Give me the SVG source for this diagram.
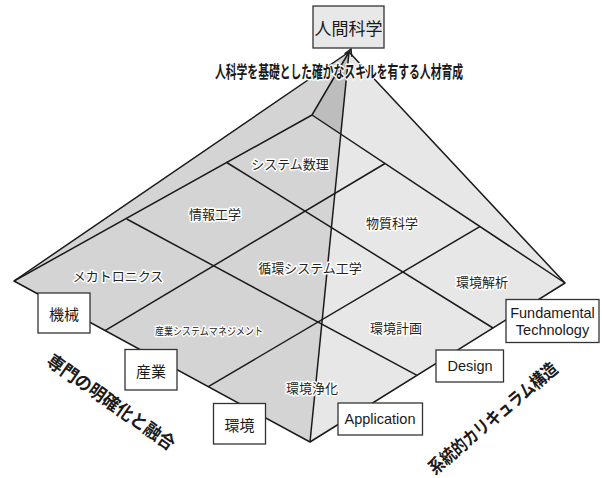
<svg xmlns="http://www.w3.org/2000/svg" width="602" height="478" viewBox="0 0 602 478">
<defs>
<style>
.edge{stroke:#1a1a1a;stroke-width:1.5;fill:none;stroke-linejoin:round}
.box{fill:#fff;stroke:#333;stroke-width:1.3}
.jp{font-family:"Noto Sans CJK JP","Noto Sans",sans-serif;fill:#1a1a1a}
.en{font-family:"Liberation Sans",Arial,sans-serif;fill:#1a1a1a}
.cell{font-family:"Noto Sans CJK JP",sans-serif;fill:#222;font-size:13px;text-anchor:middle;dominant-baseline:central;stroke:#fff;stroke-width:3;paint-order:stroke;stroke-linejoin:round}
.lbl{text-anchor:middle;dominant-baseline:central}
</style>
<marker id="arr" markerWidth="10" markerHeight="10" refX="8" refY="5" orient="auto" markerUnits="userSpaceOnUse">
<path d="M1,1 L8,5 L1,9" fill="none" stroke="#1a1a1a" stroke-width="1.3"/>
</marker>
</defs>
<rect width="602" height="478" fill="#fff"/>
<g id="faces">
<polygon points="349,52 14,281 310,442" fill="#d4d4d4"/>
<polygon points="349,52 310,442 565,283" fill="#e7e7e7"/>
<polygon points="349,52 312,115 340.8,133.7" fill="#bdbdbd"/>
</g>
<g id="connectors">
<path class="edge" d="M349,52 L14,281 L310,442 L565,283 Z"/>
<path class="edge" d="M349,52 L310,442"/>
<path class="edge" d="M349,52 L312,115"/>
<path class="edge" d="M14,281 L312,115 L565,283"/>
<path class="edge" d="M126.7,219 L417,375.3"/>
<path class="edge" d="M226.7,162.5 L493,328"/>
<path class="edge" d="M105,330.6 L385,163.5"/>
<path class="edge" d="M208.3,386.7 L479.8,226.6"/>
<path class="edge" d="M349.3,53 L351,49" marker-end="url(#arr)"/>
</g>
<g id="cells">
<text class="cell" x="290" y="163">システム数理</text>
<text class="cell" x="215" y="213">情報工学</text>
<text class="cell" x="392" y="222">物質科学</text>
<text class="cell" x="118" y="275">メカトロニクス</text>
<text class="cell" x="310" y="267">循環システム工学</text>
<text class="cell" x="482" y="281">環境解析</text>
<text class="cell" x="209" y="330" style="font-size:10.5px" textLength="108" lengthAdjust="spacingAndGlyphs">産業システムマネジメント</text>
<text class="cell" x="396" y="327">環境計画</text>
<text class="cell" x="312" y="387">環境浄化</text>
</g>
<g id="node-human">
<rect class="box" x="313" y="6" width="71" height="42" fill="#e8e8e8" style="fill:#e8e8e8"/>
<text class="jp lbl" x="348.5" y="27" font-size="17">人間科学</text>
</g>
<g id="headline">
<text class="jp lbl" x="339" y="70" font-size="17" font-weight="bold" textLength="248" lengthAdjust="spacingAndGlyphs" stroke="#fff" stroke-width="3" paint-order="stroke" stroke-linejoin="round">人科学を基礎とした確かなスキルを有する人材育成</text>
</g>
<g id="node-kikai">
<rect class="box" x="38" y="293" width="52" height="40"/>
<text class="jp lbl" x="64" y="313" font-size="15">機械</text>
</g>
<g id="node-sangyo">
<rect class="box" x="125" y="349.5" width="52" height="40.5"/>
<text class="jp lbl" x="151" y="370" font-size="15">産業</text>
</g>
<g id="node-kankyo">
<rect class="box" x="213.5" y="403.5" width="52" height="40.5"/>
<text class="jp lbl" x="239.5" y="424" font-size="15">環境</text>
</g>
<g id="node-application">
<rect class="box" x="338" y="403" width="84.5" height="32"/>
<text class="en lbl" x="380" y="419" font-size="14.5">Application</text>
</g>
<g id="node-design">
<rect class="box" x="436" y="350" width="67.5" height="32"/>
<text class="en lbl" x="470" y="366" font-size="14.5">Design</text>
</g>
<g id="node-fundamental">
<rect class="box" x="506" y="299.5" width="93" height="43"/>
<text class="en lbl" x="552.5" y="313" font-size="14.5">Fundamental</text>
<text class="en lbl" x="552.5" y="330" font-size="14.5">Technology</text>
</g>
<g id="axis-left">
<text class="jp lbl" transform="translate(112,401) rotate(35)" font-size="18" font-weight="bold" textLength="152" lengthAdjust="spacingAndGlyphs">専門の明確化と融合</text>
</g>
<g id="axis-right">
<text class="jp lbl" transform="translate(492,417) rotate(-40)" font-size="18" font-weight="bold" textLength="162" lengthAdjust="spacingAndGlyphs">系統的カリキュラム構造</text>
</g>
</svg>
